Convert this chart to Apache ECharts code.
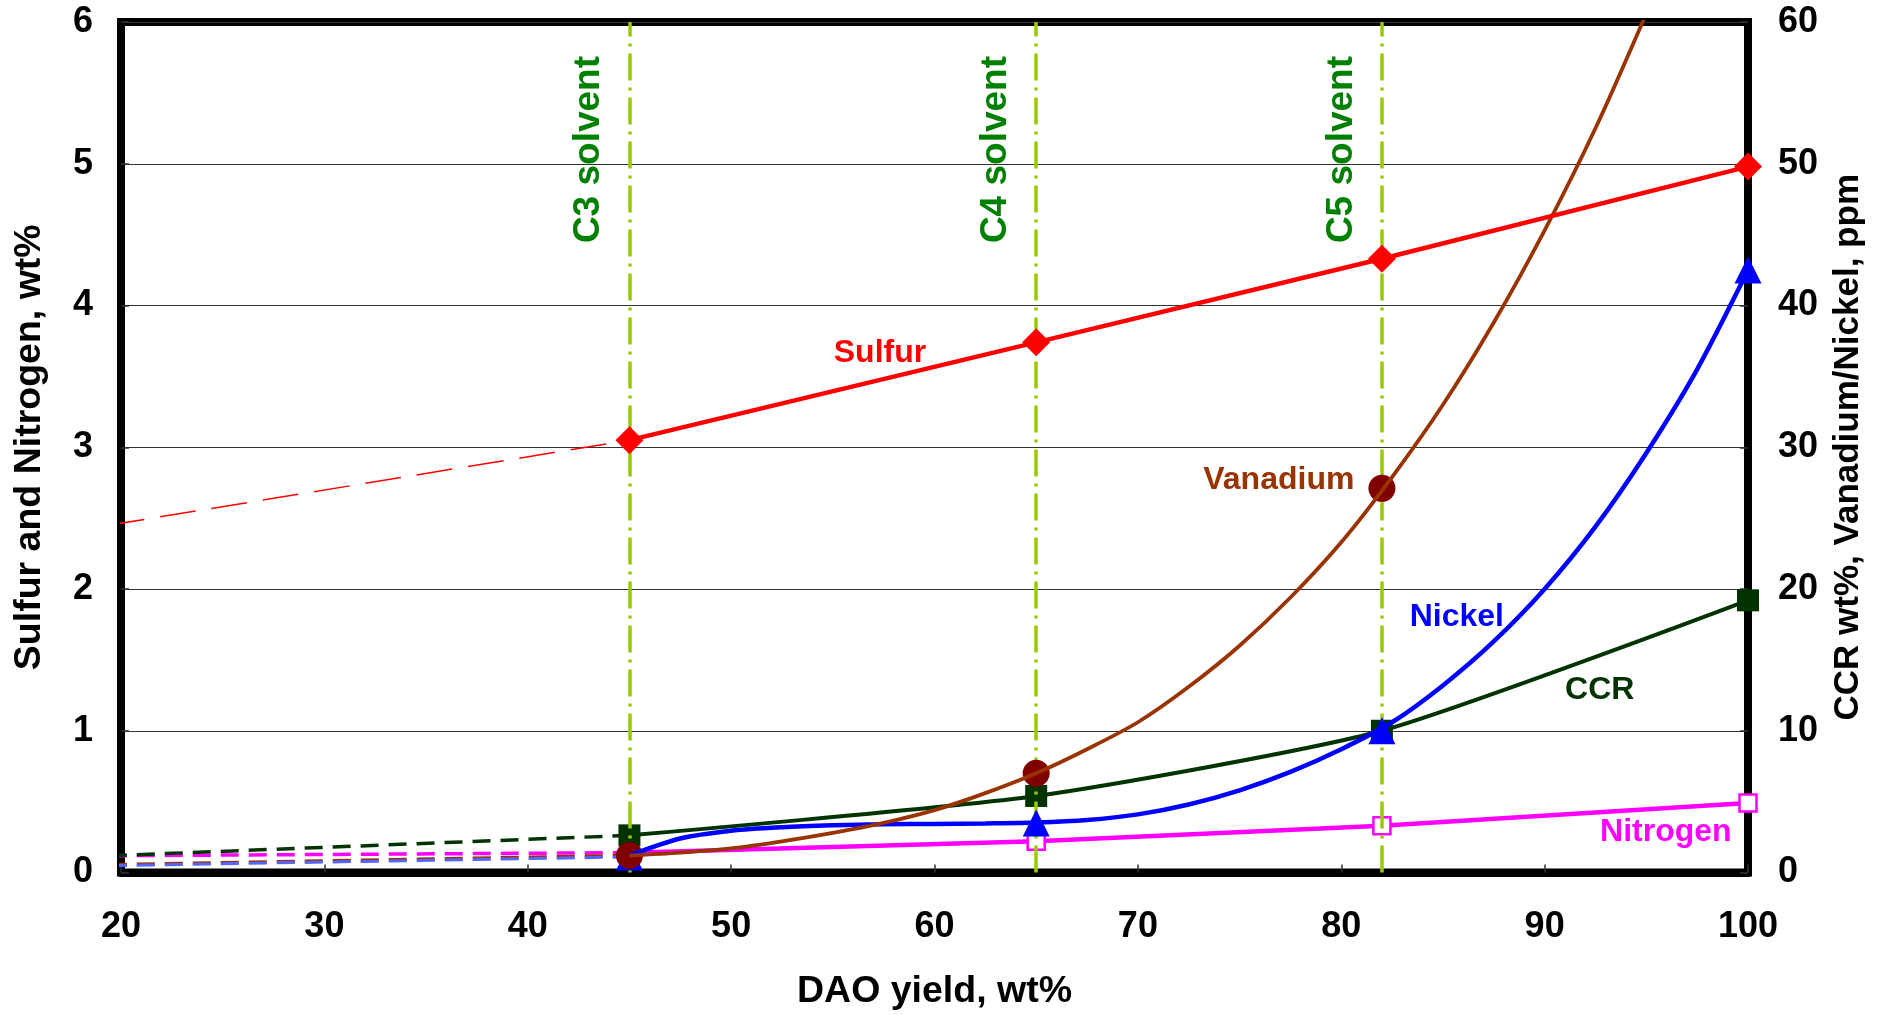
<!DOCTYPE html>
<html>
<head>
<meta charset="utf-8">
<title>DAO quality vs yield</title>
<script src="https://cdn.jsdelivr.net/npm/echarts@6/dist/echarts.min.js"></script>
<style>
  html, body { margin: 0; padding: 0; background: #ffffff; }
  #chart { width: 1888px; height: 1015px; }
</style>
</head>
<body>
<div id="chart"></div>
<script>
// ---- data -------------------------------------------------------------
// Solvent cut points on the DAO yield axis
const solventYields = [45, 65, 82];
const solventNames = ['C3 solvent', 'C4 solvent', 'C5 solvent'];

// Measured properties at each DAO yield (wt%), [yield, value]
const sulfurPoints   = [[45, 3.05], [65, 3.74], [82, 4.33], [100, 4.98]];   // wt%
const nitrogenPoints = [[45, 0.14], [65, 0.22], [82, 0.33], [100, 0.49]];   // wt%
const ccrPoints      = [[45, 2.62], [65, 5.4], [82, 10.0], [100, 19.2]];    // wt%
const vanadiumPoints = [[45, 1.2], [65, 7.0], [82, 27.1]];                  // ppm
const nickelPoints   = [[45, 1.1], [65, 3.5], [82, 10.0], [100, 42.5]];     // ppm

// Fitted trend curves for the metals, [yield, ppm]
const vanadiumCurve = [[45, 1.2], [47.5, 1.4], [50, 1.7], [52.5, 2.2], [55, 2.8], [57.5, 3.5],
  [60, 4.4], [62.5, 5.6], [65, 7.0], [67.5, 8.7], [70, 10.6], [72.5, 13.1], [75, 16.0],
  [77.5, 19.4], [80, 23.3], [82.5, 27.9], [85, 33.0], [87.5, 38.8], [90, 45.3], [92.5, 52.5],
  [95, 60.6]];
const nickelCurve = [[45, 1.2], [47.5, 2.4], [50, 2.95], [52.5, 3.2], [55, 3.33], [57.5, 3.4],
  [60, 3.43], [62.5, 3.46], [65, 3.52], [67.5, 3.7], [70, 4.1], [72.5, 4.8], [75, 5.8],
  [77.5, 7.1], [80, 8.7], [82.5, 10.6], [85, 13.2], [87.5, 16.3], [90, 20.0], [92.5, 24.4],
  [95, 29.6], [97.5, 35.5], [100, 42.5]];

// Back-extrapolation of each property toward low DAO yield
const sulfurExtrap   = [[19.4, 2.45], [45, 3.05]];
const nitrogenExtrap = [[19.4, 0.118], [45, 0.14]];
const ccrExtrap      = [[19.4, 1.18], [45, 2.62]];
const vanadiumExtrap = [[19.4, 0.55], [45, 1.2]];
const nickelExtrap   = [[19.4, 0.48], [45, 1.1]];

// ---- styling ----------------------------------------------------------
const FONT = '"Liberation Sans", Arial, Helvetica, sans-serif';
const C = {
  sulfur: '#FF0000', nitrogen: '#FF00FF', ccr: '#003300',
  vanadiumLine: '#993300', vanadiumMark: '#800000', nickel: '#0000FF',
  solventLine: '#99CC00', solventText: '#008000'
};

function extrapolation(name, data, color, yAxisIndex, width, dash) {
  return {
    name, type: 'line', data, yAxisIndex, symbol: 'none', clip: false, silent: true, z: 2,
    lineStyle: { color, width, type: dash }
  };
}

function seriesLabel(text, coord, color) {
  return {
    symbol: 'circle', symbolSize: 0, silent: true,
    label: { show: true, position: 'inside', formatter: text, color,
      fontFamily: FONT, fontWeight: 'bold', fontSize: 32 },
    data: [{ coord }]
  };
}

const tickLabel = { color: '#000', fontFamily: FONT, fontWeight: 'bold', fontSize: 36 };
const axisName = { color: '#000', fontFamily: FONT, fontWeight: 'bold', fontSize: 37.5, verticalAlign: 'middle' };

const option = {
  animation: false,
  backgroundColor: '#ffffff',
  grid: {
    left: 121, right: 140, top: 22, bottom: 142.5,
    containLabel: false, outerBoundsMode: 'none',
    show: true, borderColor: '#000', borderWidth: 8, backgroundColor: 'transparent'
  },
  xAxis: {
    type: 'value', min: 20, max: 100, interval: 10,
    axisLine: { show: true, onZero: false, lineStyle: { color: '#000', width: 8 } },
    axisTick: { show: true, inside: true, length: 8, lineStyle: { color: '#333', width: 1.5 } },
    axisLabel: Object.assign({ margin: 37 }, tickLabel),
    splitLine: { show: false },
    name: 'DAO yield, wt%', nameLocation: 'middle', nameGap: 119, nameTextStyle: axisName
  },
  yAxis: [
    {
      type: 'value', min: 0, max: 6, interval: 1, position: 'left',
      axisLine: { show: true, lineStyle: { color: '#000', width: 8 } },
      axisTick: { show: true, inside: true, length: 8, lineStyle: { color: '#333', width: 1.5 } },
      axisLabel: Object.assign({ margin: 28 }, tickLabel),
      splitLine: { show: true, lineStyle: { color: '#333', width: 1.2 } },
      name: 'Sulfur and Nitrogen, wt%', nameLocation: 'middle', nameGap: 91, nameRotate: 90,
      nameTextStyle: axisName
    },
    {
      type: 'value', min: 0, max: 60, interval: 10, position: 'right',
      axisLine: { show: true, lineStyle: { color: '#000', width: 8 } },
      axisTick: { show: true, inside: true, length: 8, lineStyle: { color: '#333', width: 1.5 } },
      axisLabel: Object.assign({ margin: 30 }, tickLabel),
      splitLine: { show: false },
      name: 'CCR wt%, Vanadium/Nickel, ppm', nameLocation: 'middle', nameGap: 100, nameRotate: 90,
      nameTextStyle: Object.assign({}, axisName, { fontSize: 35 })
    }
  ],
  series: [
    // dashed back-extrapolations
    extrapolation('Sulfur extrapolation', sulfurExtrap, C.sulfur, 0, 1.5, [36, 16]),
    extrapolation('Nitrogen extrapolation', nitrogenExtrap, C.nitrogen, 0, 3.5, [18, 10]),
    extrapolation('CCR extrapolation', ccrExtrap, C.ccr, 1, 3.5, [18, 10]),
    extrapolation('Vanadium extrapolation', vanadiumExtrap, C.vanadiumLine, 1, 3.5, [18, 10]),
    extrapolation('Nickel extrapolation', nickelExtrap, '#5566ff', 1, 3, [18, 10]),

    {
      name: 'Nitrogen', type: 'line', yAxisIndex: 0, data: nitrogenPoints, z: 3,
      symbol: 'rect', symbolSize: 17,
      itemStyle: { color: '#ffffff', borderColor: C.nitrogen, borderWidth: 2.5 },
      lineStyle: { color: C.nitrogen, width: 4.5 },
      markPoint: seriesLabel('Nitrogen', [95.96, 0.282], C.nitrogen)
    },
    {
      name: 'CCR', type: 'line', yAxisIndex: 1, data: ccrPoints, z: 4,
      smooth: 0.2, symbol: 'rect', symbolSize: 22,
      itemStyle: { color: C.ccr },
      lineStyle: { color: C.ccr, width: 4 },
      markPoint: seriesLabel('CCR', [92.71, 12.87], C.ccr)
    },
    {
      name: 'Nickel markers', type: 'scatter', yAxisIndex: 1, data: nickelPoints, z: 5,
      symbol: 'triangle', symbolSize: 27, itemStyle: { color: C.nickel, opacity: 1 }
    },
    {
      name: 'Vanadium markers', type: 'scatter', yAxisIndex: 1, data: vanadiumPoints, z: 6,
      symbol: 'circle', symbolSize: 27, itemStyle: { color: C.vanadiumMark, opacity: 1 }
    },
    {
      name: 'Nickel', type: 'line', yAxisIndex: 1, data: nickelCurve, z: 7,
      smooth: 0.3, symbol: 'none',
      lineStyle: { color: C.nickel, width: 4.5 },
      markPoint: seriesLabel('Nickel', [85.68, 18.02], C.nickel)
    },
    {
      name: 'Vanadium', type: 'line', yAxisIndex: 1, data: vanadiumCurve, z: 7,
      smooth: 0.3, symbol: 'none', clip: true,
      lineStyle: { color: C.vanadiumLine, width: 3.8 },
      markPoint: seriesLabel('Vanadium', [76.93, 27.68], C.vanadiumLine)
    },
    {
      name: 'Sulfur', type: 'line', yAxisIndex: 0, data: sulfurPoints, z: 8,
      symbol: 'diamond', symbolSize: 28,
      itemStyle: { color: C.sulfur },
      lineStyle: { color: C.sulfur, width: 4.5 },
      markPoint: seriesLabel('Sulfur', [57.32, 3.664], C.sulfur)
    },
    {
      name: 'Solvents', type: 'line', yAxisIndex: 0, data: [], z: 9,
      markLine: {
        silent: true, symbol: ['none', 'none'],
        lineStyle: { color: C.solventLine, width: 3.5, type: [27, 7, 3, 7] },
        label: {
          show: true, position: 'insideEndTop', distance: 22, padding: [0, 12, 0, 0],
          color: C.solventText, fontFamily: FONT, fontWeight: 'bold', fontSize: 37
        },
        data: solventYields.map((x, i) => ({ xAxis: x, label: { formatter: solventNames[i] } }))
      }
    }
  ]
};

const chart = echarts.init(document.getElementById('chart'));
chart.setOption(option);
</script>
</body>
</html>
